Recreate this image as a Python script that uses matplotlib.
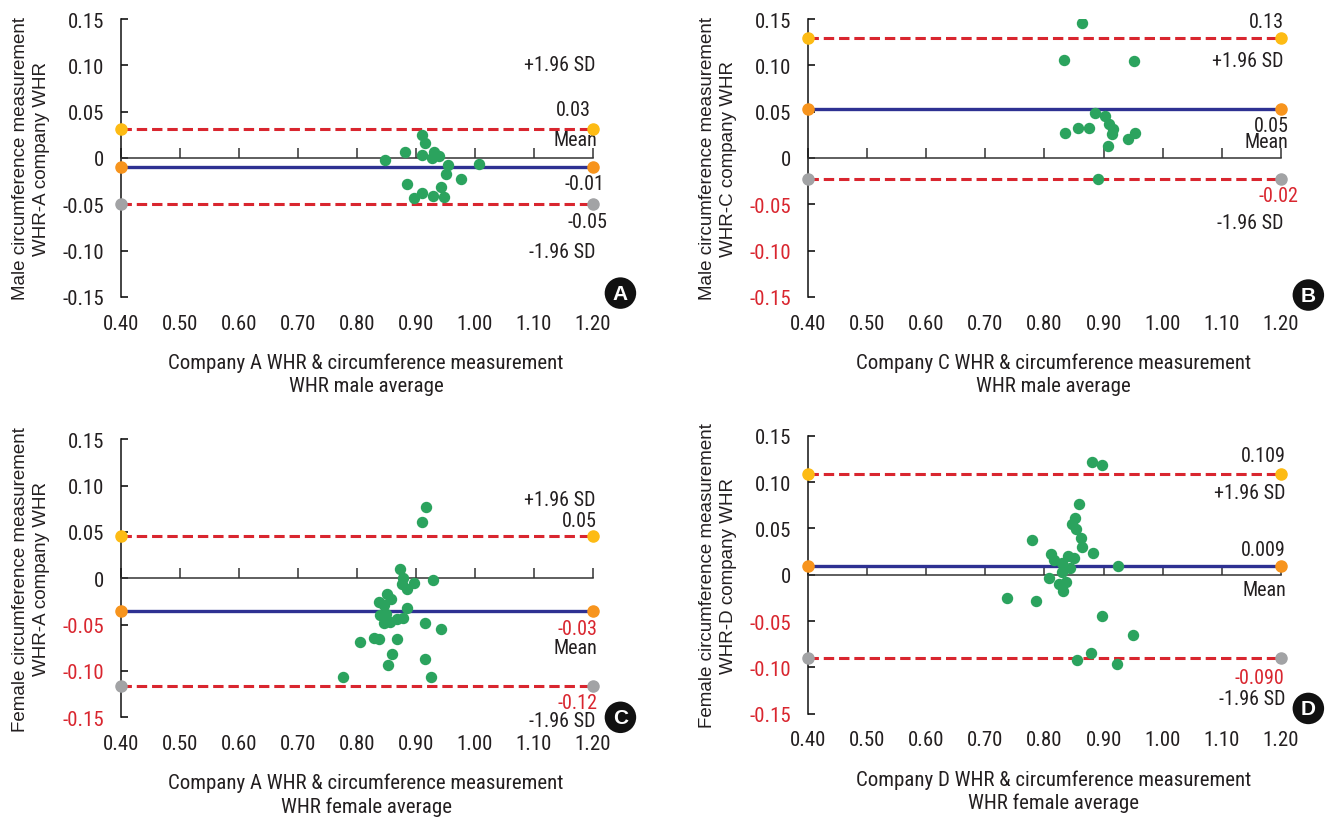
import numpy as np
import matplotlib.pyplot as plt

# ---- data ----
# A: male, company A
a_avg = [0.848, 0.881, 0.910, 0.916, 0.910, 0.931, 0.927, 0.939, 0.954, 0.950, 0.976, 1.006,
         0.884, 0.910, 0.897, 0.928, 0.942, 0.948]
a_diff = [-0.002, 0.006, 0.025, 0.016, 0.003, 0.007, 0.000, 0.002, -0.008, -0.017, -0.023, -0.006,
          -0.028, -0.038, -0.043, -0.041, -0.031, -0.042]
a_lines = [0.031, -0.0097, -0.050]   # +1.96SD, mean, -1.96SD

# B: male, company C
b_avg = [0.863, 0.833, 0.952, 0.885, 0.903, 0.909, 0.916, 0.914, 0.834, 0.856, 0.876, 0.907,
         0.941, 0.953, 0.890]
b_diff = [0.146, 0.106, 0.105, 0.049, 0.045, 0.037, 0.031, 0.026, 0.027, 0.032, 0.032, 0.013,
          0.021, 0.027, -0.023]
b_lines = [0.129, 0.053, -0.023]

# C: female, company A
c_avg = [0.917, 0.910, 0.873, 0.878, 0.876, 0.884, 0.896, 0.928, 0.850, 0.858, 0.837, 0.845,
         0.884, 0.839, 0.849, 0.846, 0.856, 0.867, 0.878, 0.916, 0.942, 0.805, 0.828, 0.837,
         0.867, 0.859, 0.853, 0.916, 0.776, 0.926]
c_diff = [0.077, 0.061, 0.010, 0.000, -0.006, -0.012, -0.005, -0.002, -0.017, -0.022, -0.026, -0.029,
          -0.032, -0.040, -0.039, -0.048, -0.047, -0.044, -0.043, -0.048, -0.055, -0.069, -0.064, -0.066,
          -0.066, -0.082, -0.093, -0.087, -0.107, -0.106]
c_lines = [0.046, -0.035, -0.116]

# D: female, company D
d_avg = [0.881, 0.898, 0.858, 0.851, 0.846, 0.854, 0.779, 0.861, 0.864, 0.882, 0.811, 0.839,
         0.850, 0.816, 0.829, 0.924, 0.844, 0.830, 0.808, 0.836, 0.825, 0.831, 0.737, 0.786,
         0.898, 0.949, 0.879, 0.855, 0.922]
d_diff = [0.122, 0.118, 0.076, 0.061, 0.055, 0.049, 0.038, 0.040, 0.030, 0.023, 0.022, 0.020,
          0.018, 0.016, 0.013, 0.009, 0.007, 0.003, -0.004, -0.008, -0.010, -0.018, -0.025, -0.028,
          -0.045, -0.065, -0.085, -0.092, -0.096]
d_lines = [0.109, 0.0095, -0.090]

x_ticks = [0.40, 0.50, 0.60, 0.70, 0.80, 0.90, 1.00, 1.10, 1.20]
x_labels = ['0.40', '0.50', '0.60', '0.70', '0.80', '0.90', '1.00', '1.10', '1.20']
y_ticks = [0.15, 0.10, 0.05, 0, -0.05, -0.10, -0.15]
y_labels = ['0.15', '0.10', '0.05', '0', '-0.05', '-0.10', '-0.15']

# ---- style ----
txt = '#231F20'
red = '#D9262F'
green = '#2BA35E'
navy = '#2E3192'
end_cols = ['#FDBB14', '#F7941D', '#A2A3A5']
narrow = ['Roboto Condensed', 'Liberation Sans']
plt.rcParams['font.family'] = ['Liberation Sans', 'DejaVu Sans']
fs = 15
fs_ann = 14.5

# annotation layouts: (text, y, x_right, colour)
ann_a = [('+1.96 SD', 0.101, 1.205, txt), ('0.03', 0.052, 1.197, txt), ('Mean', 0.0205, 1.207, txt),
         ('-0.01', -0.028, 1.219, txt), ('-0.05', -0.069, 1.224, txt), ('-1.96 SD', -0.101, 1.205, txt)]
ann_b = [('0.13', 0.147, 1.205, txt), ('+1.96 SD', 0.105, 1.205, txt), ('0.05', 0.0356, 1.213, txt),
         ('Mean', 0.0173, 1.213, txt), ('-0.02', -0.041, 1.229, red), ('-1.96 SD', -0.070, 1.205, txt)]
ann_c = [('+1.96 SD', 0.0848, 1.205, txt), ('0.05', 0.0622, 1.207, txt), ('-0.03', -0.054, 1.207, red),
         ('Mean', -0.0745, 1.207, txt), ('-0.12', -0.1338, 1.207, red), ('-1.96 SD', -0.1537, 1.205, txt)]
ann_d = [('0.109', 0.1284, 1.2085, txt), ('+1.96 SD', 0.0889, 1.207, txt), ('0.009', 0.027, 1.2085, txt),
         ('Mean', -0.0162, 1.209, txt), ('-0.090', -0.1109, 1.206, red), ('-1.96 SD', -0.134, 1.207, txt)]

panels = [
    dict(pos=[0.091, 0.6366, 0.3549, 0.339], x=a_avg, y=a_diff, lines=a_lines, ann=ann_a, neg_red=False,
         ylab='Male circumference measurement\nWHR-A company WHR',
         xlab='Company A WHR & circumference measurement\nWHR male average', badge='A', by=0.014),
    dict(pos=[0.6075, 0.6366, 0.3556, 0.339], x=b_avg, y=b_diff, lines=b_lines, ann=ann_b, neg_red=True,
         ylab='Male circumference measurement\nWHR-C company WHR',
         xlab='Company C WHR & circumference measurement\nWHR male average', badge='B', by=0.007),
    dict(pos=[0.091, 0.124, 0.3549, 0.339], x=c_avg, y=c_diff, lines=c_lines, ann=ann_c, neg_red=True,
         ylab='Female circumference measurement\nWHR-A company WHR',
         xlab='Company A WHR & circumference measurement\nWHR female average', badge='C', by=0.0),
    dict(pos=[0.6075, 0.1284, 0.3556, 0.339], x=d_avg, y=d_diff, lines=d_lines, ann=ann_d, neg_red=True,
         ylab='Female circumference measurement\nWHR-D company WHR',
         xlab='Company D WHR & circumference measurement\nWHR female average', badge='D', by=0.019),
]

fig = plt.figure(figsize=(13.3, 8.2), dpi=100)

for p in panels:
    ax = fig.add_axes(p['pos'])
    ax.set_xlim(0.40, 1.20)
    ax.set_ylim(-0.15, 0.15)
    for s in ['top', 'right']:
        ax.spines[s].set_visible(False)
    ax.spines['left'].set_color('#111111')
    ax.spines['left'].set_linewidth(1.1)
    ax.spines['bottom'].set_position(('data', 0))
    ax.spines['bottom'].set_color('#333333')
    ax.spines['bottom'].set_linewidth(1.1)

    ax.set_xticks(x_ticks)
    ax.tick_params(axis='x', direction='in', length=7, width=1.1, color='#333333', labelbottom=False)
    ax.set_yticks(y_ticks)
    ax.set_yticklabels(y_labels, family=narrow, stretch='condensed', fontsize=fs)
    ax.tick_params(axis='y', direction='in', length=5, width=1.1, pad=12)
    for t, v in zip(ax.get_yticklabels(), y_ticks):
        t.set_color(red if (p['neg_red'] and v < 0) else txt)

    sec = ax.secondary_xaxis('bottom')
    sec.spines['bottom'].set_visible(False)
    sec.set_xticks(x_ticks)
    sec.set_xticklabels(x_labels, family=narrow, stretch='condensed', fontsize=fs, color=txt)
    sec.tick_params(axis='x', length=0, pad=12)

    ax.set_xlabel(p['xlab'], family=narrow, stretch='condensed', fontsize=fs, color=txt, linespacing=1.25)
    ax.xaxis.set_label_coords(0.519, -0.277)
    ax.xaxis.label.set_va('center')

    ax.set_ylabel(p['ylab'], fontsize=13.5, color=txt, linespacing=1.3)
    ax.yaxis.set_label_coords(-0.19, 0.5)
    ax.yaxis.label.set_va('center')

    up, mean, lo = p['lines']
    ax.plot([0.40, 1.20], [up, up], color=red, lw=2.2, dashes=(3.4, 1.6), zorder=2)
    ax.plot([0.40, 1.20], [lo, lo], color=red, lw=2.2, dashes=(3.4, 1.6), zorder=2)
    ax.plot([0.40, 1.20], [mean, mean], color=navy, lw=2.4, zorder=2)
    for v, c in zip(p['lines'], end_cols):
        ax.plot([0.40, 1.20], [v, v], ls='none', marker='o', ms=8, color=c, clip_on=False, zorder=4)

    ax.plot(p['x'], p['y'], ls='none', marker='o', ms=7.2, color=green, zorder=3)

    for s, yv, xr, c in p['ann']:
        ax.text(xr, yv, s, ha='right', va='center', family=narrow, stretch='condensed',
                fontsize=fs_ann, color=c, clip_on=False)

    ax.text(1.058, p['by'], p['badge'], transform=ax.transAxes, ha='center', va='center',
            fontsize=15, fontweight='bold', color='white',
            bbox=dict(boxstyle='circle,pad=0.3', fc='#111111', ec='none'))

fig.savefig('out.png', dpi=100)
